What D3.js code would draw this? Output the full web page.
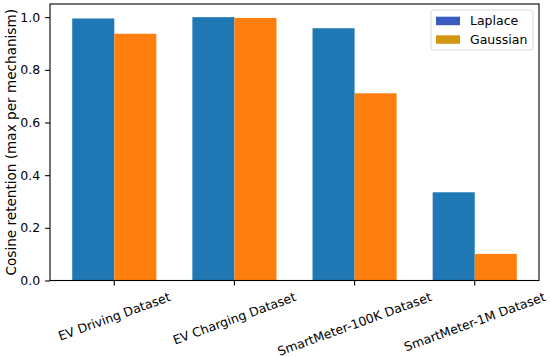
<!DOCTYPE html>
<html><head><meta charset="utf-8">
<script src="https://cdn.jsdelivr.net/npm/d3@7"></script>
<style>body{margin:0;background:#fff}svg{display:block;font-family:"DejaVu Sans",sans-serif}</style>
</head><body>
<svg id="c" width="550" height="357"></svg>
<script>
const categories = ["EV Driving Dataset","EV Charging Dataset","SmartMeter-100K Dataset","SmartMeter-1M Dataset"];
const laplace = [0.995, 1.0, 0.958, 0.335];
const gaussian = [0.937, 0.997, 0.711, 0.101];
const seriesNames = ["Laplace","Gaussian"];
const yTicks = [0.0, 0.2, 0.4, 0.6, 0.8, 1.0];

const svg = d3.select("#c");
const L = 50, R = 539, T = 4, B = 280.5;
const x = d3.scaleLinear().domain([-0.535, 3.535]).range([L, R]);
const y = d3.scaleLinear().domain([0, 1.05]).range([B, T]);
const w = 0.35;
const barColors = ["#1f77b4", "#ff7f0e"];
const legendColors = ["#3a5bbf", "#d3960e"];

const series = [laplace, gaussian];
series.forEach((vals, s) => {
  svg.append("g").selectAll("rect").data(vals).join("rect")
    .attr("x", (d, i) => x(i + (s === 0 ? -w : 0)))
    .attr("width", x(w) - x(0))
    .attr("y", d => y(d))
    .attr("height", d => y(0) - y(d))
    .attr("fill", barColors[s]);
});

// y axis
const yAxis = svg.append("g").attr("transform", `translate(${L},0)`)
  .call(d3.axisLeft(y).tickValues(yTicks).tickFormat(d3.format(".1f")).tickSize(4.9).tickPadding(5));
yAxis.select(".domain").remove();
yAxis.selectAll("text").attr("font-size", 12.5).attr("fill", "#000").attr("font-family", "DejaVu Sans");
yAxis.selectAll("line").attr("stroke", "#000").attr("stroke-width", 1.1);

// x ticks
const xAxis = svg.append("g").attr("transform", `translate(0,${B})`);
xAxis.selectAll("line").data(categories).join("line")
  .attr("x1", (d, i) => x(i)).attr("x2", (d, i) => x(i))
  .attr("y1", 0).attr("y2", 4.9).attr("stroke", "#000").attr("stroke-width", 1.1);

const rot = 20, rad = rot * Math.PI / 180;
const fs = 12.5;
categories.forEach((c, i) => {
  const t = svg.append("text").text(c).attr("font-size", fs).attr("text-anchor", "middle")
    .attr("dy", "0.35em").attr("fill", "#000");
  const len = t.node().getComputedTextLength();
  const h = fs * 1.17;
  const bh = len * Math.sin(rad) + h * Math.cos(rad);
  const cx = x(i), cy = B + 4.9 + 4 + bh / 2;
  t.attr("transform", `translate(${cx},${cy}) rotate(${-rot})`);
});

// spines
svg.append("rect").attr("x", L).attr("y", T).attr("width", R - L).attr("height", B - T)
  .attr("fill", "none").attr("stroke", "#000").attr("stroke-width", 1.1);

// y label
svg.append("text").text("Cosine retention (max per mechanism)")
  .attr("font-size", 13.6).attr("text-anchor", "middle").attr("fill", "#000")
  .attr("transform", `translate(16,${(T + B) / 2}) rotate(-90)`);

// legend
const lg = svg.append("g");
lg.append("rect").attr("x", 431).attr("y", 10).attr("width", 102).attr("height", 40)
  .attr("rx", 2.5).attr("fill", "#fff").attr("fill-opacity", 0.8).attr("stroke", "#d9d9d9");
seriesNames.forEach((n, k) => {
  const yy = 20.7 + k * 18.6;
  lg.append("rect").attr("x", 436).attr("y", yy - 4).attr("width", 24).attr("height", 8.5)
    .attr("fill", legendColors[k]);
  lg.append("text").text(n).attr("x", 470).attr("y", yy).attr("dy", "0.35em")
    .attr("font-size", 12.5).attr("fill", "#000");
});
</script>
</body></html>
